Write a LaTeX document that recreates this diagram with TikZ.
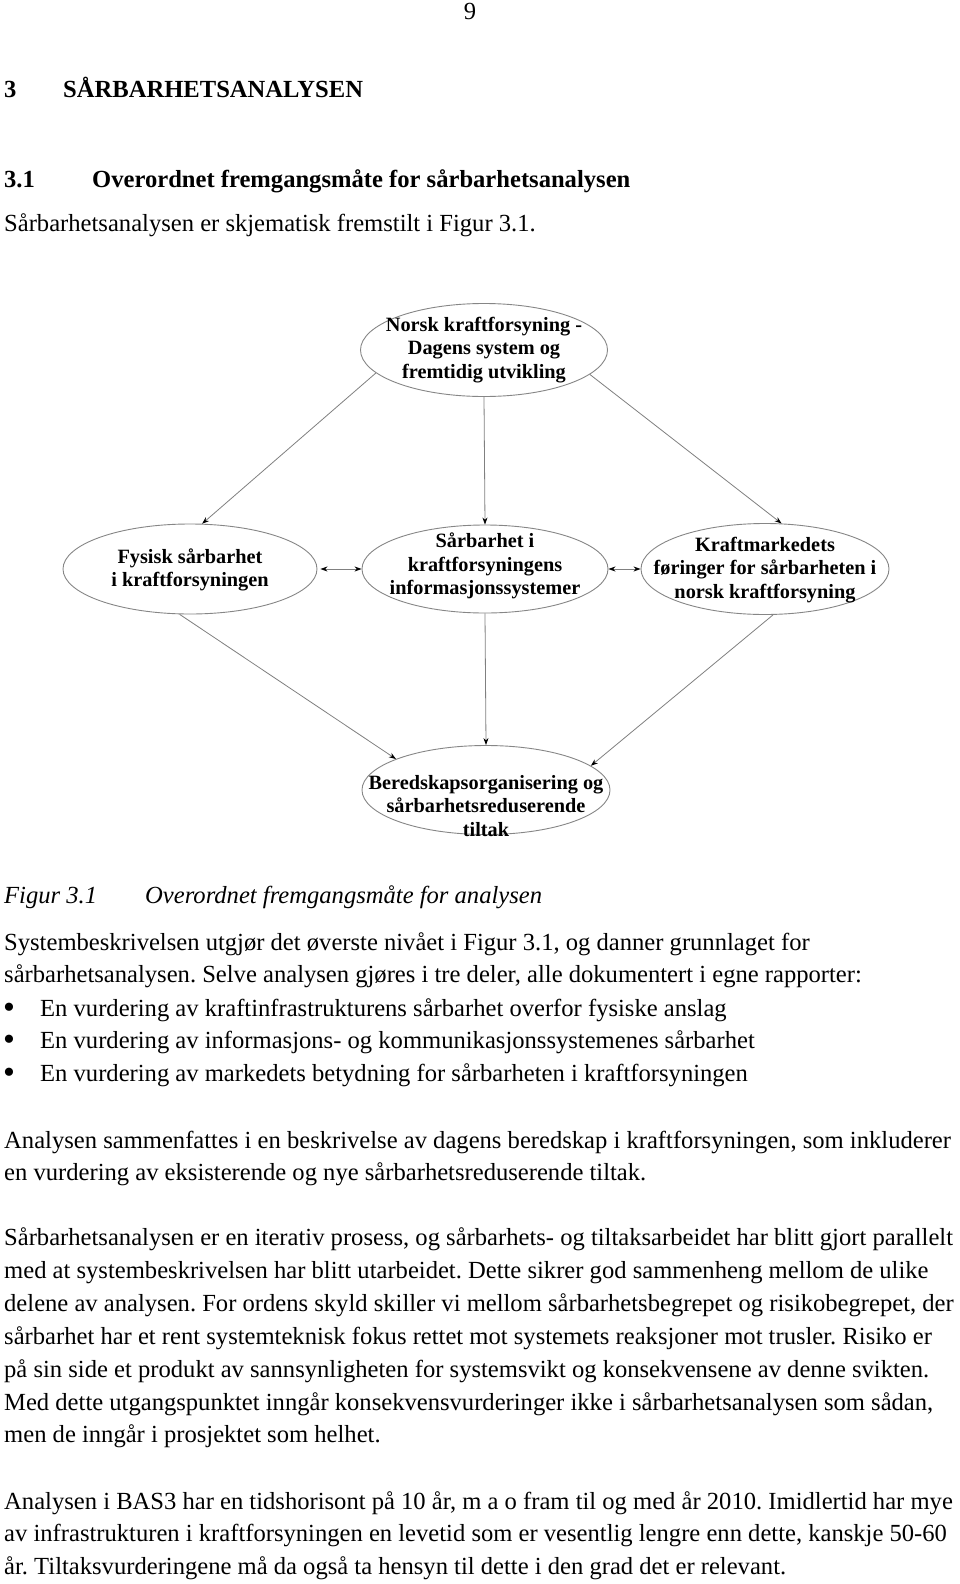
\documentclass[tikz,border=0pt]{standalone}
\usepackage{fontspec}
\setmainfont{Liberation Serif}
\frenchspacing
\usetikzlibrary{arrows.meta,shapes.geometric,positioning}
\tikzstyle{bbl}=[ellipse,draw=gray!95,line width=0.9pt,inner sep=0pt]
\tikzstyle{bbltxt}=[align=center,inner sep=0pt,font=\fontsize{20.3}{23.3}\selectfont\bfseries]
\tikzstyle{ln}=[draw=gray,line width=0.8pt,-{Stealth[length=7pt,width=5pt,color=black]}]
\tikzstyle{dln}=[draw=gray,line width=0.8pt,{Stealth[length=7pt,width=5pt,color=black]}-{Stealth[length=7pt,width=5pt,color=black]}]
\tikzset{
	txt/.style={anchor=base west,inner sep=0pt,font=\fontsize{24.6}{32.9}\selectfont},
	hd/.style={txt,font=\fontsize{24.6}{32.9}\selectfont\bfseries},
	figcap/.style={txt,font=\fontsize{24.6}{32.9}\selectfont\itshape},
	blt/.style={txt,font=\fontsize{34}{34}\selectfont}
}

\begin{document}
\begin{tikzpicture}[x=1pt,y=-1pt]
	\fill[white] (0,0) rectangle (960,1584);
	\node[txt,anchor=base] (pg) at (470,20) {9};
	\node[hd] (h1n) at (4,98) {3};
	\node[hd] (h1) at (63,98) {SÅRBARHETSANALYSEN};
	\node[hd] (h2n) at (4,187) {3.1};
	\node[hd] (h2) at (92,187) {Overordnet fremgangsmåte for sårbarhetsanalysen};
	\node[txt] (intro) at (4,231) {Sårbarhetsanalysen er skjematisk fremstilt i Figur 3.1.};
	\node (sys) [bbl,minimum width=247pt,minimum height=93pt] at (484,350) {};
	\node (fys) [bbl,minimum width=254pt,minimum height=90pt] at (190,569) {};
	\node (ikt) [bbl,minimum width=246pt,minimum height=88pt] at (485,569) {};
	\node (mkt) [bbl,minimum width=248pt,minimum height=91pt] at (765,569) {};
	\node (ber) [bbl,minimum width=248pt,minimum height=89pt] at (486,790) {};
	\node (systxt) [bbltxt] at (484,350) {Norsk kraftforsyning -\\Dagens system og\\fremtidig utvikling};
	\node (fystxt) [bbltxt] at (190,570) {Fysisk sårbarhet\\i kraftforsyningen};
	\node (ikttxt) [bbltxt] at (485,566) {Sårbarhet i\\kraftforsyningens\\informasjonssystemer};
	\node (mkttxt) [bbltxt] at (765,570) {Kraftmarkedets\\føringer for sårbarheten i\\norsk kraftforsyning};
	\node (bertxt) [bbltxt] at (486,806) {Beredskapsorganisering og\\sårbarhetsreduserende\\tiltak};
	\draw[ln] (sys.192) -- (fys.75);
	\draw[ln] (sys.south) -- (ikt.north);
	\draw[ln] (sys.347.5) -- (mkt.70);
	\draw[dln,shorten <=3pt] (fys.east) -- (ikt.west);
	\draw[dln] (ikt.east) -- (mkt.west);
	\draw[ln] (fys.257) -- (ber.161.6);
	\draw[ln] (ikt.south) -- (ber.north);
	\draw[ln] (mkt.280) -- (ber.13.9);
	\node[figcap] (fig) at (4,903) {Figur 3.1};
	\node[figcap] (figtxt) at (145,903) {Overordnet fremgangsmåte for analysen};
	\foreach \t [count=\i from 0] in {{Systembeskrivelsen utgjør det øverste nivået i Figur 3.1, og danner grunnlaget for},{sårbarhetsanalysen. Selve analysen gjøres i tre deler, alle dokumentert i egne rapporter:}}
		\node[txt] (p1-\i) at (4,{950+32.9*\i}) {\t};
	\foreach \t [count=\i from 0] in {{En vurdering av kraftinfrastrukturens sårbarhet overfor fysiske anslag},{En vurdering av informasjons- og kommunikasjonssystemenes sårbarhet},{En vurdering av markedets betydning for sårbarheten i kraftforsyningen}}{
		\node[blt] (b\i) at (3,{1018+32.9*\i}) {\textbullet};
		\node[txt] (bt\i) at (40,{1016+32.9*\i}) {\t};
	}
	\foreach \t [count=\i from 0] in {{Analysen sammenfattes i en beskrivelse av dagens beredskap i kraftforsyningen, som inkluderer},{en vurdering av eksisterende og nye sårbarhetsreduserende tiltak.}}
		\node[txt] (p2-\i) at (4,{1148+32.9*\i}) {\t};
	\foreach \t [count=\i from 0] in {{Sårbarhetsanalysen er en iterativ prosess, og sårbarhets- og tiltaksarbeidet har blitt gjort parallelt},{med at systembeskrivelsen har blitt utarbeidet. Dette sikrer god sammenheng mellom de ulike},{delene av analysen. For ordens skyld skiller vi mellom sårbarhetsbegrepet og risikobegrepet, der},{sårbarhet har et rent systemteknisk fokus rettet mot systemets reaksjoner mot trusler. Risiko er},{på sin side et produkt av sannsynligheten for systemsvikt og konsekvensene av denne svikten.},{Med dette utgangspunktet inngår konsekvensvurderinger ikke i sårbarhetsanalysen som sådan,},{men de inngår i prosjektet som helhet.}}
		\node[txt] (p3-\i) at (4,{1245.5+32.9*\i}) {\t};
	\foreach \t [count=\i from 0] in {{Analysen i BAS3 har en tidshorisont på 10 år, m a o fram til og med år 2010. Imidlertid har mye},{av infrastrukturen i kraftforsyningen en levetid som er vesentlig lengre enn dette, kanskje 50-60},{år. Tiltaksvurderingene må da også ta hensyn til dette i den grad det er relevant.}}
		\node[txt] (p4-\i) at (4,{1509+32.9*\i}) {\t};
\end{tikzpicture}
\end{document}
